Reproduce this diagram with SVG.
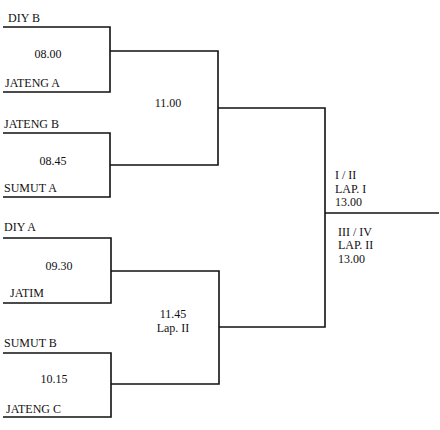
<svg xmlns="http://www.w3.org/2000/svg" width="440" height="430" viewBox="0 0 440 430">
<style>
text{font-family:"Liberation Serif","Times New Roman",serif;font-size:12px;fill:#111}
.c{text-anchor:middle}
path{fill:none;stroke:#111;stroke-width:1.6}
</style>
<rect width="440" height="430" fill="#fff"/>
<g id="connectors">
<path d="M3 27H110V92H3"/>
<path d="M3 133H110V197H3"/>
<path d="M3 238H111V303H3"/>
<path d="M3 353H111V417H3"/>
<path d="M110 51H218V165H110"/>
<path d="M111 271H219V384H111"/>
<path d="M218 108H325V327H219"/>
<path d="M325 213H439"/>
</g>
<g id="match1"><text x="8" y="22">DIY B</text><text x="48" y="58" class="c">08.00</text><text x="5" y="87">JATENG A</text></g>
<g id="match2"><text x="4" y="128">JATENG B</text><text x="53" y="165" class="c">08.45</text><text x="4" y="192">SUMUT A</text></g>
<g id="match3"><text x="4" y="231">DIY A</text><text x="59" y="270" class="c">09.30</text><text x="10" y="297">JATIM</text></g>
<g id="match4"><text x="4" y="347">SUMUT B</text><text x="54" y="383" class="c">10.15</text><text x="6" y="413">JATENG C</text></g>
<g id="semi1"><text x="168" y="107" class="c">11.00</text></g>
<g id="semi2"><text x="173" y="318" class="c">11.45</text><text x="173" y="332" class="c">Lap. II</text></g>
<g id="final"><text x="335" y="179">I / II</text><text x="335" y="193">LAP. I</text><text x="335" y="206">13.00</text>
<text x="338" y="236">III / IV</text><text x="338" y="249">LAP. II</text><text x="338" y="263">13.00</text></g>
</svg>
